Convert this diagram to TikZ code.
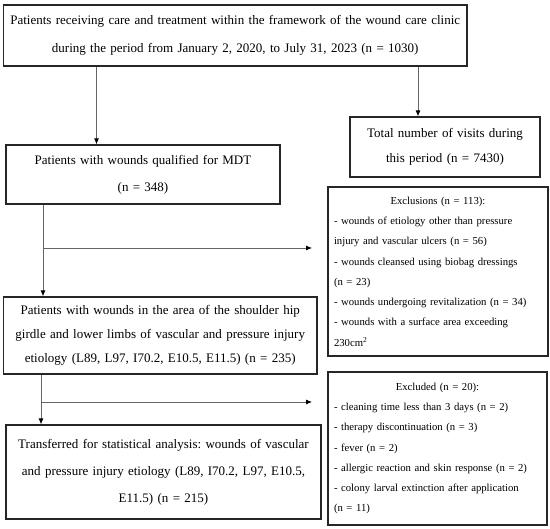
\documentclass[tikz,border=0pt]{standalone}
\usepackage{fontspec}
\setmainfont{Liberation Serif}
\usetikzlibrary{arrows.meta}
\frenchspacing

\begin{document}
\begin{tikzpicture}[x = 1pt, y = -1pt]
\tikzstyle{BoxStyle}=[
shape = rectangle,
draw = black!85,
line width = 1.2pt,
inner sep = 0pt,
align = center,
font = \fontsize{13}{27}\selectfont]
\tikzstyle{ListStyle}=[
BoxStyle,
align = left,
font = \fontsize{10.7}{20.3}\selectfont]
\tikzstyle{ArrowStyle}=[
draw = black!60,
line width = 0.8pt,
-{Latex[length = 6pt, width = 5pt, black]}]
\useasboundingbox (0, 0) rectangle (550, 529);
\node[BoxStyle, minimum width = 463.5pt, minimum height = 61pt, text width = 460pt, font = \fontsize{13}{28}\selectfont] (clinic) at (235.25, 35.5)
{Patients receiving care and treatment within the framework of the wound care clinic\\
during the period from January 2, 2020, to July 31, 2023 (n = 1030)};
\node[BoxStyle, minimum width = 274pt, minimum height = 59pt, text width = 264pt] (mdt) at (143, 174.5)
{Patients with wounds qualified for MDT\\ (n = 348)};
\node[BoxStyle, minimum width = 190pt, minimum height = 60pt, text width = 184pt, font = \fontsize{13}{25}\selectfont] (visits) at (445, 147)
{Total number of visits during\\ this period (n = 7430)};
\node[ListStyle, minimum width = 220pt, minimum height = 169pt, text width = 208pt] (exclusions) at (438, 271.5)
{{\centering Exclusions (n = 113):\par}
- wounds of etiology other than pressure\\
injury and vascular ulcers (n = 56)\\
- wounds cleansed using biobag dressings\\
(n = 23)\\
- wounds undergoing revitalization (n = 34)\\
- wounds with a surface area exceeding\\
230cm\textsuperscript{2}};
\node[BoxStyle, minimum width = 313.5pt, minimum height = 77pt, text width = 310pt, font = \fontsize{13}{24}\selectfont] (area) at (160.25, 335.5)
{Patients with wounds in the area of the shoulder hip\\
girdle and lower limbs of vascular and pressure injury\\
etiology (L89, L97, I70.2, E10.5, E11.5) (n = 235)};
\node[BoxStyle, minimum width = 315pt, minimum height = 94pt, text width = 310pt] (analysis) at (163.5, 472)
{Transferred for statistical analysis: wounds of vascular\\
and pressure injury etiology (L89, I70.2, L97, E10.5,\\
E11.5) (n = 215)};
\node[ListStyle, minimum width = 219pt, minimum height = 153pt, text width = 207pt] (excluded) at (437.5, 448.5)
{{\centering Excluded (n = 20):\par}
- cleaning time less than 3 days (n = 2)\\
- therapy discontinuation (n = 3)\\
- fever (n = 2)\\
- allergic reaction and skin response (n = 2)\\
- colony larval extinction after application\\
(n = 11)};
\coordinate (c1) at (96.5, 0);
\coordinate (c2) at (418, 0);
\coordinate (c3) at (43, 0);
\coordinate (c4) at (41, 0);
\coordinate (b1) at (312, 248);
\coordinate (b2) at (312, 402);
\draw[ArrowStyle] (c1 |- clinic.south) -- (c1 |- mdt.north);
\draw[ArrowStyle] (c2 |- clinic.south) -- (c2 |- visits.north);
\draw[ArrowStyle] (c3 |- mdt.south) -- (c3 |- area.north);
\draw[ArrowStyle] (c3 |- b1) -- (b1);
\draw[ArrowStyle] (c4 |- area.south) -- (c4 |- analysis.north);
\draw[ArrowStyle] (c4 |- b2) -- (b2);
\end{tikzpicture}
\end{document}
